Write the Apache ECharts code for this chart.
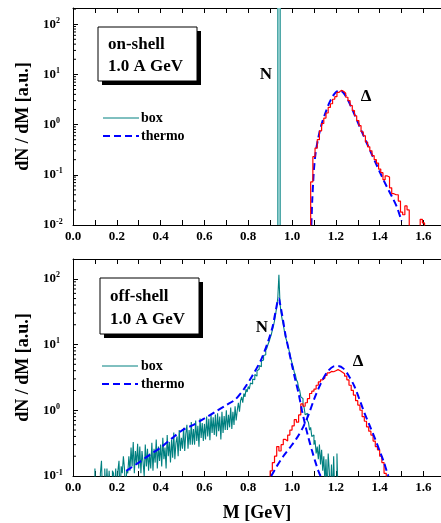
<!DOCTYPE html>
<html><head><meta charset="utf-8">
<script src="https://cdn.jsdelivr.net/npm/echarts@6/dist/echarts.min.js"></script>
<style>html,body{margin:0;padding:0;background:#fff}#c{width:441px;height:523px}</style>
</head><body><div id="c"></div>
<script>
// ---------------- data ----------------
const massMin = 0.0, massMax = 1.68, massTickStep = 0.1;
const topYMin = 0.01, topYMax = 210;
const botYMin = 0.1, botYMax = 200;

// on-shell panel
const nucleonMassOnShell = 0.935;
const onDeltaBinStart = 1.085, onDeltaBinWidth = 0.01;
const onDeltaBox = [0.072,0.23,0.34,0.5,0.75,1.05,1.35,1.7,2.2,2.6,3.2,3.6,4.4,4.8,4.6,4.2,3.5,3.0,2.4,1.9,1.5,1.2,0.95,0.72,0.6,0.45,0.36,0.3,0.24,0.2,0.17,0.13,0.11,0.08,0.095,0.09,0.055,0.042,0.04,0.04,0.03,0.018,0.016,0.024,0.02,0.005,0.005,0.005,0.005,0.005,0.013,0.011];
const onDeltaThermoM = [1.088,1.092,1.097,1.10,1.105,1.11,1.12,1.13,1.14,1.15,1.16,1.17,1.18,1.19,1.20,1.21,1.22,1.23,1.24,1.25,1.26,1.27,1.28,1.29,1.30,1.32,1.34,1.36,1.38,1.40,1.42,1.44,1.46,1.48,1.50];
const onDeltaThermo  = [0.01,0.03,0.08,0.13,0.22,0.32,0.55,0.85,1.2,1.6,2.1,2.7,3.3,3.9,4.4,4.7,4.75,4.5,4.0,3.4,2.8,2.25,1.8,1.42,1.12,0.7,0.44,0.28,0.18,0.115,0.075,0.05,0.034,0.022,0.012];

// off-shell panel
const offNBinStart = 0.100, offNBinWidth = 0.005;
const offNBox = [
 0.13,0.05,0.05,0.05,0.05,0.11,0.17,0.05,0.05,0.13,
 0.05,0.13,0.05,0.12,0.05,0.05,0.12,0.11,0.05,0.13,
 0.05,0.12,0.17,0.05,0.14,0.11,0.2,0.13,0.05,0.12,
 0.11,0.2,0.12,0.27,0.14,0.33,0.11,0.24,0.15,0.31,
 0.13,0.28,0.11,0.24,0.16,0.1,0.3,0.14,0.26,0.12,
 0.22,0.13,0.32,0.12,0.26,0.16,0.36,0.13,0.28,0.17,
 0.3,0.14,0.38,0.18,0.27,0.13,0.42,0.2,0.33,0.16,
 0.36,0.19,0.46,0.18,0.32,0.4,0.2,0.5,0.24,0.38,
 0.26,0.54,0.24,0.44,0.6,0.26,0.5,0.3,0.66,0.3,
 0.52,0.3,0.7,0.34,0.58,0.28,0.75,0.38,0.64,0.34,
 0.62,0.36,0.8,0.4,0.74,0.35,0.85,0.45,0.78,0.42,
 0.86,0.4,0.9,0.48,0.8,0.36,0.95,0.45,0.82,0.5,
 1.0,0.5,0.85,0.55,1.1,0.52,0.95,0.6,1.15,0.7,
 1.0,1.3,0.95,1.4,1.6,1.3,1.8,1.6,2.1,1.9,
 2.3,2.1,2.6,2.5,3.0,2.9,3.5,3.3,4.0,4.2,
 4.8,4.6,5.6,5.8,6.8,7.0,8.2,8.8,10,11,
 12.5,14,16.5,19,23,29,37,52,115,42,
 30,24,20,16,13,11.5,10,8.5,7.2,6,
 5.2,4.6,3.8,3.5,2.9,2.7,2.2,2.0,1.6,1.5,
 1.2,1.1,0.85,0.9,0.7,0.65,0.5,0.55,0.4,0.42,
 0.3,0.35,0.22,0.28,0.18,0.3,0.15,0.25,0.12,0.2,
 0.08,0.18,0.05,0.22,0.12,0.05,0.15,0.05,0.2,0.05,
 0.05,0.22,0.05,0.05];
const offNThermoM = [0.243,0.30,0.35,0.40,0.45,0.50,0.55,0.60,0.65,0.70,0.74,0.78,0.82,0.86,0.89,0.91,0.925,0.935,0.94,0.945,0.955,0.97,0.985,1.0,1.015,1.03,1.045,1.06,1.075,1.09,1.105,1.12,1.13];
const offNThermo  = [0.12,0.16,0.21,0.27,0.37,0.5,0.6,0.75,0.95,1.2,1.45,2.1,3.4,6.0,11,18,32,47,50,42,28,14,8.2,4.8,2.9,1.8,1.0,0.6,0.38,0.25,0.17,0.12,0.1];
const offDeltaBinStart = 0.89, offDeltaBinWidth = 0.01;
const offDeltaBox = [0.05,0.12,0.16,0.2,0.28,0.24,0.3,0.36,0.34,0.42,0.5,0.58,0.72,0.66,0.85,1.25,1.15,1.3,1.5,1.8,1.95,2.1,2.4,2.7,2.9,3.1,3.4,3.7,3.9,3.85,4.0,4.15,4.0,3.8,3.6,3.3,2.9,2.4,2.0,1.7,1.4,1.2,1.0,0.8,0.68,0.56,0.48,0.42,0.34,0.28,0.25,0.2,0.16,0.11];
const offDeltaThermoM = [0.905,0.93,0.96,0.99,1.02,1.05,1.075,1.10,1.13,1.16,1.19,1.21,1.235,1.26,1.285,1.31,1.33,1.355,1.38,1.40,1.42,1.435,1.44];
const offDeltaThermo  = [0.1,0.14,0.2,0.27,0.37,0.55,0.85,1.45,2.5,3.8,4.65,4.7,4.3,3.3,2.3,1.4,0.92,0.58,0.36,0.24,0.16,0.11,0.1];

const minorFactors = [2,3,4,5,6,7,8,9];
const topDecades = [-2,-1,0,1,2];
const botDecades = [-1,0,1,2];

// ---------------- build ----------------
const FONT = 'Liberation Serif';
const FLOOR = 1e-5;
const TEAL = '#008080', RED = '#ff0000', BLUE = '#0000ff';

function histPoints(start, width, vals) {
  const pts = [[start, FLOOR]];
  vals.forEach((v, i) => pts.push([+(start + i * width).toFixed(4), v]));
  pts.push([+(start + vals.length * width).toFixed(4), FLOOR]);
  return pts;
}
function zipPts(xs, ys) { return xs.map((x, i) => [x, ys[i]]); }
function minorTicks(decades, max) {
  const out = [];
  decades.forEach(k => minorFactors.forEach(f => { const v = f * Math.pow(10, k); if (v < max) out.push([massMin, v]); }));
  return out;
}

const labelRich = {
  b: { fontFamily: FONT, fontWeight: 'bold', fontSize: 13, color: '#000', lineHeight: 15 },
  s: { fontFamily: FONT, fontWeight: 'bold', fontSize: 8, color: '#000', lineHeight: 8, verticalAlign: 'top' }
};

function yAxisCfg(gridIndex, min, max) {
  return {
    type: 'log', logBase: 10, gridIndex, min, max,
    name: 'dN / dM [a.u.]', nameLocation: 'middle', nameGap: 40, nameRotate: 90,
    nameTextStyle: { fontFamily: FONT, fontWeight: 'bold', fontSize: 18, color: '#000' },
    axisLine: { show: true, lineStyle: { color: '#000', width: 1 } },
    axisTick: { show: true, inside: true, length: 5, lineStyle: { color: '#000' } },
    splitLine: { show: false },
    axisLabel: {
      showMaxLabel: false, margin: 30, align: 'left',
      formatter: v => '{b|10}{s|' + Math.round(Math.log10(v)) + '}',
      rich: labelRich
    }
  };
}
function xAxisCfg(gridIndex, pos, withLabels, name) {
  return {
    type: 'value', gridIndex, position: pos, min: massMin, max: massMax, interval: massTickStep,
    name: name || '', nameLocation: 'middle', nameGap: 28,
    nameTextStyle: { fontFamily: FONT, fontWeight: 'bold', fontSize: 18, color: '#000' },
    axisLine: { show: true, onZero: false, lineStyle: { color: '#000', width: 1 } },
    axisTick: { show: true, inside: true, length: 5, lineStyle: { color: '#000' } },
    splitLine: { show: false },
    axisLabel: {
      show: withLabels, showMaxLabel: false, margin: 5,
      fontFamily: FONT, fontWeight: 'bold', fontSize: 13, color: '#000',
      formatter: v => (Math.round(v * 10) % 2 === 0 ? v.toFixed(1) : '')
    }
  };
}
const minorTickRender = (params, api) => {
  const p = api.coord([api.value(0), api.value(1)]);
  return { type: 'line', shape: { x1: p[0], y1: p[1], x2: p[0] + 3, y2: p[1] }, style: { stroke: '#000', lineWidth: 1 } };
};

const lineBase = { type: 'line', showSymbol: false, symbol: 'none', silent: true, animation: false, clip: true };

const option = {
  animation: false,
  backgroundColor: '#fff',
  grid: [
    { left: 73, right: -3, top: 8, height: 217 },
    { left: 73, right: -3, top: 259, height: 217 }
  ],
  xAxis: [
    xAxisCfg(0, 'bottom', true),
    xAxisCfg(0, 'top', false),
    xAxisCfg(1, 'bottom', true, 'M [GeV]'),
    xAxisCfg(1, 'top', false)
  ],
  yAxis: [yAxisCfg(0, topYMin, topYMax), yAxisCfg(1, botYMin, botYMax)],
  series: [
    Object.assign({}, lineBase, {
      xAxisIndex: 0, yAxisIndex: 0, data: [],
      markLine: { silent: true, symbol: 'none', animation: false, label: { show: false },
        lineStyle: { color: '#4fa8a8', width: 4, type: 'solid' }, data: [{ xAxis: nucleonMassOnShell }] }
    }),
    Object.assign({}, lineBase, {
      xAxisIndex: 0, yAxisIndex: 0, data: [],
      markLine: { silent: true, symbol: 'none', animation: false, label: { show: false },
        lineStyle: { color: '#9ad4d4', width: 1.5, type: 'solid' }, data: [{ xAxis: nucleonMassOnShell }] }
    }),
    Object.assign({}, lineBase, { xAxisIndex: 0, yAxisIndex: 0, smooth: 0.3, z: 3,
      data: zipPts(onDeltaThermoM, onDeltaThermo),
      lineStyle: { color: BLUE, width: 2, type: [7, 4] } }),
    Object.assign({}, lineBase, { xAxisIndex: 0, yAxisIndex: 0, step: 'end', z: 4,
      data: histPoints(onDeltaBinStart, onDeltaBinWidth, onDeltaBox),
      lineStyle: { color: RED, width: 1.2 } }),

    Object.assign({}, lineBase, { xAxisIndex: 2, yAxisIndex: 1, step: 'end', z: 2,
      data: histPoints(offNBinStart, offNBinWidth, offNBox),
      lineStyle: { color: TEAL, width: 1.1 } }),
    Object.assign({}, lineBase, { xAxisIndex: 2, yAxisIndex: 1, step: 'end', z: 3,
      data: histPoints(offDeltaBinStart, offDeltaBinWidth, offDeltaBox),
      lineStyle: { color: RED, width: 1.2 } }),
    Object.assign({}, lineBase, { xAxisIndex: 2, yAxisIndex: 1, smooth: 0.3, z: 4,
      data: zipPts(offNThermoM, offNThermo),
      lineStyle: { color: BLUE, width: 2, type: [7, 4] } }),
    Object.assign({}, lineBase, { xAxisIndex: 2, yAxisIndex: 1, smooth: 0.3, z: 4,
      data: zipPts(offDeltaThermoM, offDeltaThermo),
      lineStyle: { color: BLUE, width: 2, type: [7, 4] } }),

    { type: 'custom', xAxisIndex: 0, yAxisIndex: 0, silent: true, data: minorTicks(topDecades, topYMax), renderItem: minorTickRender, clip: true },
    { type: 'custom', xAxisIndex: 2, yAxisIndex: 1, silent: true, data: minorTicks(botDecades, botYMax), renderItem: minorTickRender, clip: true }
  ],
  graphic: [
    // on-shell info box
    { type: 'rect', shape: { x: 102, y: 31, width: 99, height: 54 }, style: { fill: '#000' } },
    { type: 'rect', shape: { x: 98, y: 27, width: 99, height: 54 }, style: { fill: '#fff', stroke: '#000', lineWidth: 1 } },
    { type: 'text', x: 108, y: 45, style: { text: 'on-shell', font: 'bold 17px "Liberation Serif"', fill: '#000', verticalAlign: 'middle' } },
    { type: 'text', x: 108, y: 67, style: { text: '1.0 A GeV', font: 'bold 17px "Liberation Serif"', fill: '#000', verticalAlign: 'middle' } },
    { type: 'line', shape: { x1: 103, y1: 118, x2: 139, y2: 118 }, style: { stroke: TEAL, lineWidth: 1 } },
    { type: 'text', x: 141, y: 118, style: { text: 'box', font: 'bold 14px "Liberation Serif"', fill: '#000', verticalAlign: 'middle' } },
    { type: 'line', shape: { x1: 103, y1: 136, x2: 139, y2: 136 }, style: { stroke: BLUE, lineWidth: 2, lineDash: [7, 4] } },
    { type: 'text', x: 141, y: 136, style: { text: 'thermo', font: 'bold 14px "Liberation Serif"', fill: '#000', verticalAlign: 'middle' } },
    { type: 'text', x: 266, y: 75, style: { text: 'N', font: 'bold 17px "Liberation Serif"', fill: '#000', align: 'center', verticalAlign: 'middle' } },
    { type: 'text', x: 366, y: 97, style: { text: 'Δ', font: 'bold 17px "Liberation Serif"', fill: '#000', align: 'center', verticalAlign: 'middle' } },
    // off-shell info box
    { type: 'rect', shape: { x: 104, y: 282, width: 99, height: 56 }, style: { fill: '#000' } },
    { type: 'rect', shape: { x: 100, y: 278, width: 99, height: 56 }, style: { fill: '#fff', stroke: '#000', lineWidth: 1 } },
    { type: 'text', x: 110, y: 297, style: { text: 'off-shell', font: 'bold 17px "Liberation Serif"', fill: '#000', verticalAlign: 'middle' } },
    { type: 'text', x: 110, y: 320, style: { text: '1.0 A GeV', font: 'bold 17px "Liberation Serif"', fill: '#000', verticalAlign: 'middle' } },
    { type: 'line', shape: { x1: 102, y1: 366, x2: 138, y2: 366 }, style: { stroke: TEAL, lineWidth: 1 } },
    { type: 'text', x: 141, y: 366, style: { text: 'box', font: 'bold 14px "Liberation Serif"', fill: '#000', verticalAlign: 'middle' } },
    { type: 'line', shape: { x1: 102, y1: 384, x2: 138, y2: 384 }, style: { stroke: BLUE, lineWidth: 2, lineDash: [7, 4] } },
    { type: 'text', x: 141, y: 384, style: { text: 'thermo', font: 'bold 14px "Liberation Serif"', fill: '#000', verticalAlign: 'middle' } },
    { type: 'text', x: 262, y: 328, style: { text: 'N', font: 'bold 17px "Liberation Serif"', fill: '#000', align: 'center', verticalAlign: 'middle' } },
    { type: 'text', x: 358, y: 362, style: { text: 'Δ', font: 'bold 17px "Liberation Serif"', fill: '#000', align: 'center', verticalAlign: 'middle' } }
  ]
};

const chart = echarts.init(document.getElementById('c'), null, { renderer: 'canvas' });
chart.setOption(option);
</script>
</body></html>
